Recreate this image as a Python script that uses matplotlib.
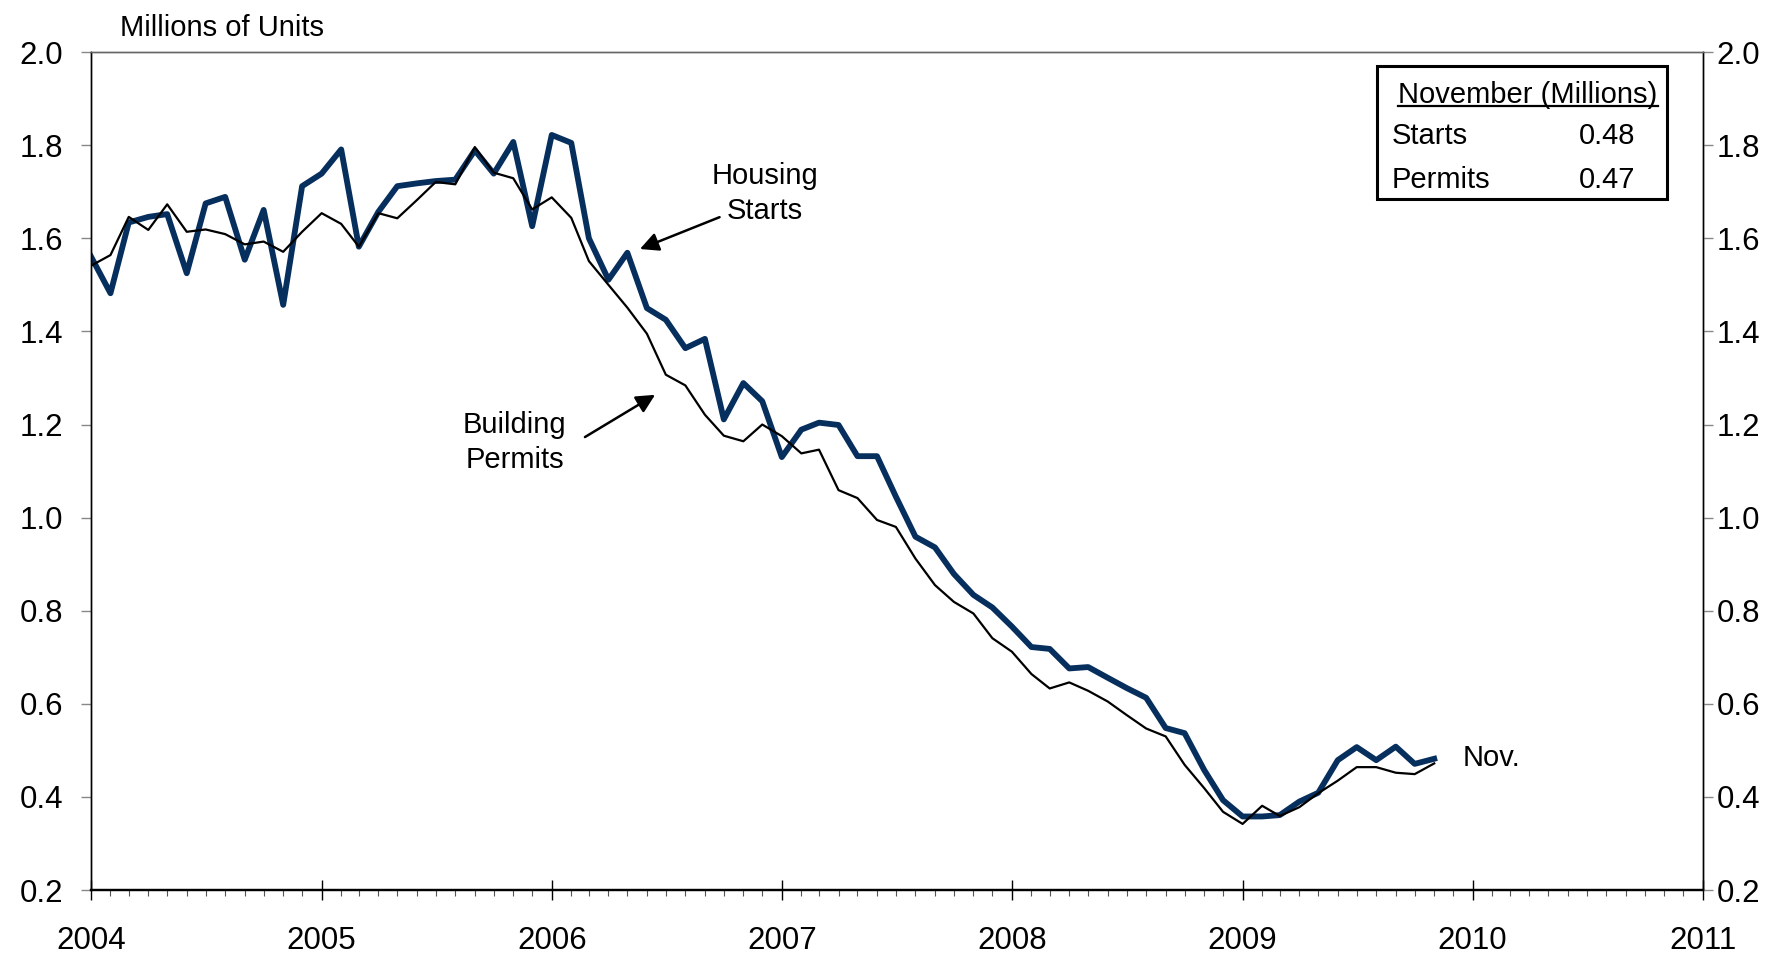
import numpy as np
import pandas as pd
import matplotlib
matplotlib.use('Agg')
import matplotlib.pyplot as plt
import matplotlib.dates as mdates

plt.rcParams['font.family'] = ['Liberation Sans', 'DejaVu Sans']

# monthly, Jan 2004 - Nov 2009 (millions of units, SAAR)
months = pd.date_range('2004-01-01', periods=71, freq='MS')

starts = [1.561, 1.482, 1.634, 1.646, 1.652, 1.525, 1.675, 1.689, 1.554, 1.661, 1.457, 1.712,
          1.739, 1.791, 1.582, 1.657, 1.712, 1.718, 1.723, 1.726, 1.789, 1.739, 1.807, 1.626,
          1.822, 1.805, 1.600, 1.511, 1.569, 1.450, 1.425, 1.364, 1.384, 1.211, 1.289, 1.250,
          1.130, 1.189, 1.204, 1.199, 1.132, 1.132, 1.045, 0.959, 0.936, 0.879, 0.834, 0.807,
          0.766, 0.722, 0.718, 0.676, 0.679, 0.656, 0.634, 0.613, 0.548, 0.537, 0.458, 0.393,
          0.358, 0.358, 0.361, 0.390, 0.409, 0.479, 0.507, 0.479, 0.508, 0.471, 0.482]

permits = [1.541, 1.564, 1.646, 1.618, 1.673, 1.614, 1.619, 1.609, 1.587, 1.593, 1.571, 1.614,
           1.654, 1.631, 1.582, 1.654, 1.643, 1.682, 1.721, 1.716, 1.796, 1.741, 1.729, 1.662,
           1.688, 1.644, 1.551, 1.500, 1.451, 1.395, 1.307, 1.284, 1.221, 1.176, 1.164, 1.200,
           1.175, 1.138, 1.146, 1.059, 1.042, 0.995, 0.980, 0.912, 0.855, 0.819, 0.794, 0.741,
           0.712, 0.664, 0.633, 0.646, 0.628, 0.605, 0.576, 0.547, 0.530, 0.469, 0.419, 0.368,
           0.342, 0.381, 0.359, 0.378, 0.408, 0.435, 0.464, 0.464, 0.452, 0.449, 0.472]

yTicks = [0.2, 0.4, 0.6, 0.8, 1.0, 1.2, 1.4, 1.6, 1.8, 2.0]
boxRows = [('Starts', '0.48'), ('Permits', '0.47')]

fig = plt.figure(figsize=(17.83, 9.56), dpi=100)
ax = fig.add_axes([0.051, 0.069, 0.904, 0.8765])

ax.plot(months, permits, color='black', lw=1.6, zorder=3)
ax.plot(months, starts, color='#062f5e', lw=4.2, zorder=2)

ax.set_xlim(pd.Timestamp('2004-01-01'), pd.Timestamp('2011-01-01'))
ax.set_ylim(0.2, 2.0)
ax.set_yticks(yTicks)
ax.set_yticklabels(['%.1f' % v for v in yTicks])

ax.xaxis.set_major_locator(mdates.YearLocator())
ax.xaxis.set_major_formatter(mdates.DateFormatter('%Y'))
ax.xaxis.set_minor_locator(mdates.MonthLocator())
ax.tick_params(axis='x', which='major', direction='inout', length=14.5, width=1,
               pad=19, labelsize=22.5)
ax.tick_params(axis='x', which='minor', direction='out', length=4.5, width=0.8,
               color='#555555')
ax.tick_params(axis='y', direction='out', length=7, width=1, color='#888888',
               pad=13, labelsize=22.5)

ax2 = ax.twinx()
ax2.set_ylim(0.2, 2.0)
ax2.set_yticks(yTicks)
ax2.set_yticklabels(['%.1f' % v for v in yTicks])
ax2.tick_params(axis='y', direction='out', length=7, width=1, color='#888888',
                pad=3, labelsize=22.5)

for a in (ax, ax2):
    a.spines['top'].set_color('#666666')
    a.spines['top'].set_linewidth(1.0)
    a.spines['left'].set_linewidth(1.0)
    a.spines['right'].set_linewidth(1.0)
    a.spines['bottom'].set_linewidth(1.6)

fig.text(0.0673, 0.971, 'Millions of Units', fontsize=21, ha='left', va='center')

# annotations
ax.annotate('Housing\nStarts', xy=(0.3406, 0.765), xytext=(0.418, 0.831),
            xycoords='axes fraction', textcoords='axes fraction',
            ha='center', va='center', fontsize=21, linespacing=1.3)
ax.annotate('', xy=(0.3406, 0.765), xytext=(0.390, 0.803),
            xycoords='axes fraction', textcoords='axes fraction',
            arrowprops=dict(arrowstyle='-|>', color='black', lw=1.8, mutation_scale=28,
                            shrinkA=0, shrinkB=0))
ax.annotate('Building\nPermits', xy=(0.263, 0.534), xycoords='axes fraction',
            ha='center', va='center', fontsize=21, linespacing=1.3)
ax.annotate('', xy=(0.350, 0.591), xytext=(0.3065, 0.5406),
            xycoords='axes fraction', textcoords='axes fraction',
            arrowprops=dict(arrowstyle='-|>', color='black', lw=1.8, mutation_scale=28,
                            shrinkA=0, shrinkB=0))
ax.text(0.851, 0.1575, 'Nov.', transform=ax.transAxes, fontsize=21,
        ha='left', va='center')

# November box
box = plt.Rectangle((0.798, 0.8246), 0.180, 0.1584, transform=ax.transAxes,
                    fill=False, edgecolor='black', lw=2.2, zorder=5)
ax.add_patch(box)
ax.text(0.8914, 0.939, 'November (Millions)', transform=ax.transAxes, fontsize=21,
        ha='center', va='baseline')
ax.plot([0.8108, 0.972], [0.9355, 0.9355], transform=ax.transAxes, color='black',
        lw=1.6, clip_on=False)
rowY = [0.8995, 0.8475]
for (lab, val), yy in zip(boxRows, rowY):
    ax.text(0.807, yy, lab, transform=ax.transAxes, fontsize=21, ha='left', va='center')
    ax.text(0.9585, yy, val, transform=ax.transAxes, fontsize=21, ha='right', va='center')

plt.savefig('out.png', dpi=100)
